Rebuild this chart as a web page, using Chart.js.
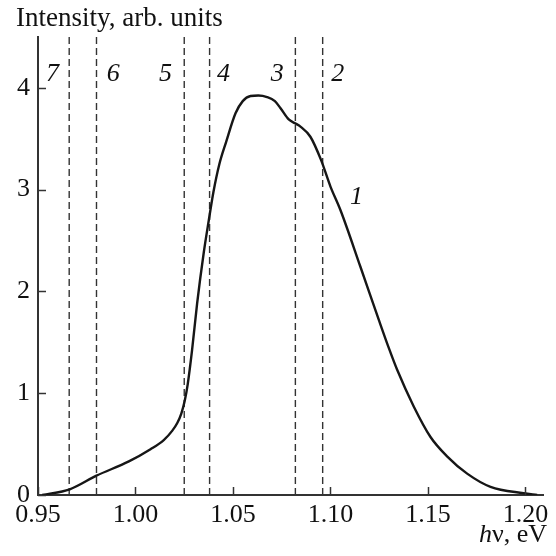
<!DOCTYPE html>
<html><head><meta charset="utf-8">
<script src="https://cdn.jsdelivr.net/npm/chart.js@4"></script>
<style>html,body{margin:0;padding:0;background:#fff}canvas{display:block}</style>
</head><body>
<canvas id="c" width="556" height="556"></canvas>
<script>
const energy = [0.9522,0.9663,0.980,0.9966,1.0077,1.0145,1.0188,1.0215,1.0235,1.0252,1.0268,1.0290,1.0316,1.0350,1.0376,1.0400,1.0430,1.0465,1.0513,1.0550,1.0590,1.0630,1.0675,1.0715,1.0744,1.0786,1.0821,1.0846,1.0897,1.0952,1.1000,1.1051,1.1154,1.1248,1.1300,1.1342,1.1427,1.1513,1.1598,1.1701,1.1821,1.1991,1.2060];
const intensity = [0,0.056,0.19,0.33,0.45,0.54,0.63,0.71,0.80,0.92,1.09,1.42,1.88,2.38,2.70,2.98,3.25,3.47,3.75,3.87,3.92,3.925,3.91,3.87,3.80,3.69,3.65,3.62,3.52,3.29,3.03,2.80,2.24,1.72,1.44,1.23,0.87,0.57,0.38,0.21,0.08,0.017,0];
const markerEnergies = [0.966,0.980,1.025,1.038,1.082,1.096];
const markerLabels = ['7','6','5','4','3','2'];
const markerLabelX = [0.9574,0.9886,1.0154,1.0451,1.0727,1.1037];
const markerLabelY = 4.13;
const curveLabel = '1';
const curveLabelX = 1.1133, curveLabelY = 2.93;
const xTicks = [0.95,1.00,1.05,1.10,1.15,1.20];
const yTicks = [0,1,2,3,4];
const yTitle = 'Intensity, arb. units';

const FONT = 'Liberation Serif';
const FS = 26;
const datasets = [{
  data: energy.map((e,i)=>({x:e,y:intensity[i]})),
  borderColor:'#161616', borderWidth:2.4, pointRadius:0,
  cubicInterpolationMode:'monotone', fill:false
}];
markerEnergies.forEach(e=>datasets.push({
  data:[{x:e,y:0},{x:e,y:4.5}], borderColor:'#333', borderWidth:1.4,
  borderDash:[7,4], pointRadius:0, fill:false
}));

const textPlugin = {
  id:'texts',
  afterDraw(chart){
    const ctx = chart.ctx, xs = chart.scales.x, ys = chart.scales.y, a = chart.chartArea;
    ctx.save();
    ctx.strokeStyle = '#333'; ctx.lineWidth = 1.5;
    yTicks.forEach(v=>{ const y = Math.round(ys.getPixelForValue(v))+0.5;
      ctx.beginPath(); ctx.moveTo(a.left,y); ctx.lineTo(a.left+8,y); ctx.stroke(); });
    xTicks.forEach(v=>{ const x = Math.round(xs.getPixelForValue(v))+0.5;
      ctx.beginPath(); ctx.moveTo(x,a.bottom); ctx.lineTo(x,a.bottom-8); ctx.stroke(); });
    ctx.fillStyle = '#111';
    ctx.font = 'italic ' + FS + 'px "' + FONT + '"';
    ctx.textAlign = 'center'; ctx.textBaseline = 'middle';
    markerLabels.forEach((t,i)=>ctx.fillText(t, xs.getPixelForValue(markerLabelX[i]), ys.getPixelForValue(markerLabelY)));
    ctx.fillText(curveLabel, xs.getPixelForValue(curveLabelX), ys.getPixelForValue(curveLabelY));
    ctx.textAlign = 'left'; ctx.textBaseline = 'alphabetic';
    ctx.font = '27px "' + FONT + '"';
    ctx.fillText(yTitle, 16, 26);
    const rest = '\u03bd, eV';
    ctx.font = FS + 'px "' + FONT + '"';
    const wRest = ctx.measureText(rest).width;
    ctx.font = 'italic ' + FS + 'px "' + FONT + '"';
    const wH = ctx.measureText('h').width;
    const right = 547, base = 542;
    ctx.fillText('h', right - wRest - wH, base);
    ctx.font = FS + 'px "' + FONT + '"';
    ctx.fillText(rest, right - wRest, base);
    ctx.restore();
  }
};

new Chart(document.getElementById('c'), {
  type:'line',
  data:{datasets},
  options:{
    responsive:false, animation:false, devicePixelRatio:1,
    layout:{padding:{left:0,top:37,right:13,bottom:0}},
    plugins:{legend:{display:false}, tooltip:{enabled:false}},
    scales:{
      x:{type:'linear', min:0.95, max:1.209,
        afterBuildTicks(s){ s.ticks = xTicks.map(v=>({value:v})); },
        afterFit(s){ s.height = 61; },
        grid:{drawOnChartArea:false, drawTicks:false},
        border:{display:true,color:'#333',width:2},
        ticks:{padding:5, color:'#111', font:{family:FONT,size:FS}, maxRotation:0, autoSkip:false,
          callback:(v)=>v.toFixed(2)}
      },
      y:{type:'linear', min:0, max:4.5,
        afterBuildTicks(s){ s.ticks = yTicks.map(v=>({value:v})); },
        afterFit(s){ s.width = 38; },
        grid:{drawOnChartArea:false, drawTicks:false},
        border:{display:true,color:'#333',width:2},
        ticks:{padding:8, color:'#111', font:{family:FONT,size:FS}, callback:(v)=>String(v)}
      }
    }
  },
  plugins:[textPlugin]
});
</script>
</body></html>
